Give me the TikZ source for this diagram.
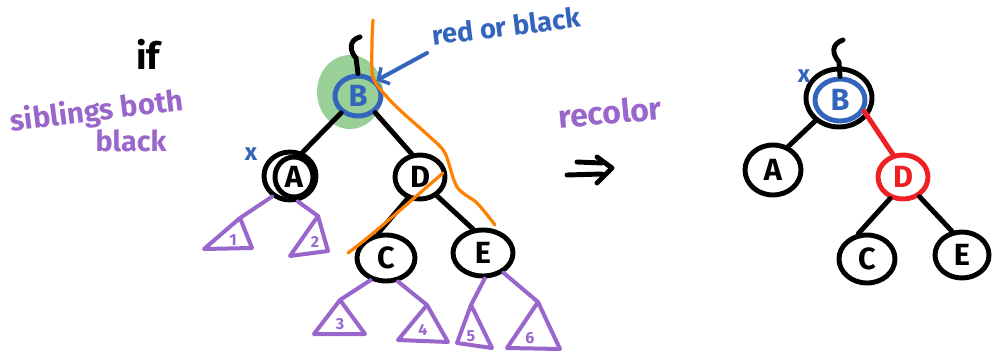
\documentclass[tikz,border=0pt]{standalone}
\usepackage{fontspec}
\setmainfont{Fira Sans}
\usetikzlibrary{shapes.geometric,arrows.meta}
\definecolor{penblue}{HTML}{3465BD}
\definecolor{penpurple}{HTML}{9966CC}
\definecolor{penorange}{HTML}{FF8000}
\definecolor{penred}{HTML}{EE2024}
\definecolor{pengreen}{HTML}{62B862}
\begin{document}
\begin{tikzpicture}[x=0.75pt,y=-0.75pt,line cap=round,line join=round,
  pen/.style={line width=3.7pt},
  tree/.style={ellipse,draw,pen,inner sep=0pt,font=\fontsize{23}{23}\selectfont\bfseries},
  twig/.style={draw=penpurple,line width=3pt},
  subtri/.style={draw=penpurple,line width=3pt},
  sublabel/.style={text=penpurple,font=\fontsize{12}{12}\selectfont\bfseries,inner sep=0pt},
  cut/.style={draw=penorange,line width=2.4pt},
  note/.style={inner sep=0pt,font=\fontsize{17}{17}\selectfont\bfseries},
  xmark/.style={inner sep=0pt,text=penblue,font=\fontsize{18}{18}\selectfont\bfseries}]
\useasboundingbox (0,0) rectangle (992,356);
\fill[white] (0,0) rectangle (992,356);

% ---------- side notes ----------
\node[note,font=\fontsize{28}{28}\selectfont\bfseries] (iflbl) at (148,54) {if};
\node[note,text=penpurple,rotate=7,font=\fontsize{22}{22}\selectfont\bfseries] (sib) at (97,112) {siblings both};
\node[note,text=penpurple,font=\fontsize{21.5}{21.5}\selectfont\bfseries] (blk) at (131,141) {black};

% ---------- tree before recolouring ----------
\fill[pengreen,opacity=0.65] (350,92) ellipse [x radius=33, y radius=37];
\node[tree,draw=penblue,text=penblue,minimum width=34.5pt,minimum height=30pt] (B) at (358,96) {B};
\node[tree,minimum width=39pt,minimum height=36pt] (A) at (290,176) {};
\node[tree,minimum width=28.5pt,minimum height=30pt] (Ain) at (294,177) {A};
\node[tree,minimum width=37.5pt,minimum height=33pt] (D) at (420,177) {D};
\node[tree,minimum width=43.5pt,minimum height=34.5pt] (C) at (386,258) {C};
\node[tree,minimum width=45pt,minimum height=34.5pt] (E) at (483,253) {E};

\coordinate (stemL) at (360,37);
\draw[pen] (stemL) .. controls (348,40) and (350,52) .. (356,58) -- (B.north);
\draw[pen] (B.225) -- (A.62);
\draw[pen] (B.316) -- (D.110);
\draw[pen] (D.240) -- (C.108);
\draw[pen] (D.312) -- (E.113);

\node[xmark] (xL) at (251,154) {x};

% subtrees hanging below A, C and E
\coordinate (t1) at (240,218);
\coordinate (t2) at (318,216);
\coordinate (t3) at (340,300);
\coordinate (t4) at (427,305);
\coordinate (t5) at (471,305);
\coordinate (t6) at (538,302);
\draw[twig] (A.229) -- (t1);
\draw[twig] (A.287) -- (t2);
\draw[twig] (C.235) -- (t3);
\draw[twig] (C.297) -- (t4);
\draw[twig] (E.274) -- (t5);
\draw[twig] (E.316) -- (t6);
\draw[subtri] (t1) -- (204,249) -- (252,248) -- cycle;
\draw[subtri] (t2) -- (290,256) -- (328,251) -- cycle;
\draw[subtri] (t3) -- (314,334) -- (365,334) -- cycle;
\draw[subtri] (t4) -- (398,340) -- (448,342) -- cycle;
\draw[subtri] (t5) -- (457,343) -- (492,348) -- cycle;
\draw[subtri] (t6) -- (507,348) -- (560,349) -- cycle;
\node[sublabel] (l1) at (233,240) {1};
\node[sublabel] (l2) at (315,242) {2};
\node[sublabel] (l3) at (340,324) {3};
\node[sublabel] (l4) at (423,330) {4};
\node[sublabel] (l5) at (471,336) {5};
\node[sublabel] (l6) at (530,338) {6};

% orange cut lines
\draw[cut] plot[smooth] coordinates {(373,20) (372,43) (373,77) (387,97) (403,113) (430,137) (445,153) (457,187) (477,203) (495,225)};
\draw[cut] plot[smooth] coordinates {(348,253) (377,230) (443,173)};

% "red or black" pointer
\node[note,text=penblue,rotate=7,font=\fontsize{20.5}{20.5}\selectfont\bfseries] (rb) at (506,26) {red or black};
\coordinate (rbtail) at (427,53);
\draw[penblue,line width=3pt,-{Straight Barb[length=6pt,width=14pt,line width=2.6pt]}] (rbtail) -- (B.40);

% ---------- recolour step ----------
\node[note,text=penpurple,rotate=5,font=\fontsize{24}{24}\selectfont\bfseries] (rec) at (610,112) {recolor};
\draw[pen] (577,162) -- (602,163);
\draw[pen] (567,175) -- (602,174);
\draw[pen] (597,157) -- (612,168) -- (597,183);

% ---------- tree after recolouring ----------
\node[tree,minimum width=49.5pt,minimum height=43.5pt] (Bo) at (839,98) {};
\node[tree,draw=penblue,text=penblue,minimum width=37.5pt,minimum height=31.5pt] (Br) at (840,100) {B};
\node[tree,minimum width=42pt,minimum height=37.5pt] (Ar) at (773,170) {A};
\node[tree,draw=penred,text=penred,minimum width=37.5pt,minimum height=33pt] (Dr) at (903,177) {D};
\node[tree,minimum width=42pt,minimum height=36pt] (Cr) at (867,259) {C};
\node[tree,minimum width=40.5pt,minimum height=34.5pt] (Er) at (962,255) {E};

\coordinate (stemR) at (843,40);
\draw[pen] (stemR) .. controls (831,44) and (832,54) .. (839,62) -- (Br.north);
\draw[pen] (Bo.224) -- (Ar.57);
\draw[pen,draw=penred] (Br.335) -- (Dr.114);
\draw[pen] (Dr.239) -- (Cr.109);
\draw[pen] (Dr.310) -- (Er.113);
\node[xmark] (xR) at (804,76) {x};
\end{tikzpicture}
\end{document}
